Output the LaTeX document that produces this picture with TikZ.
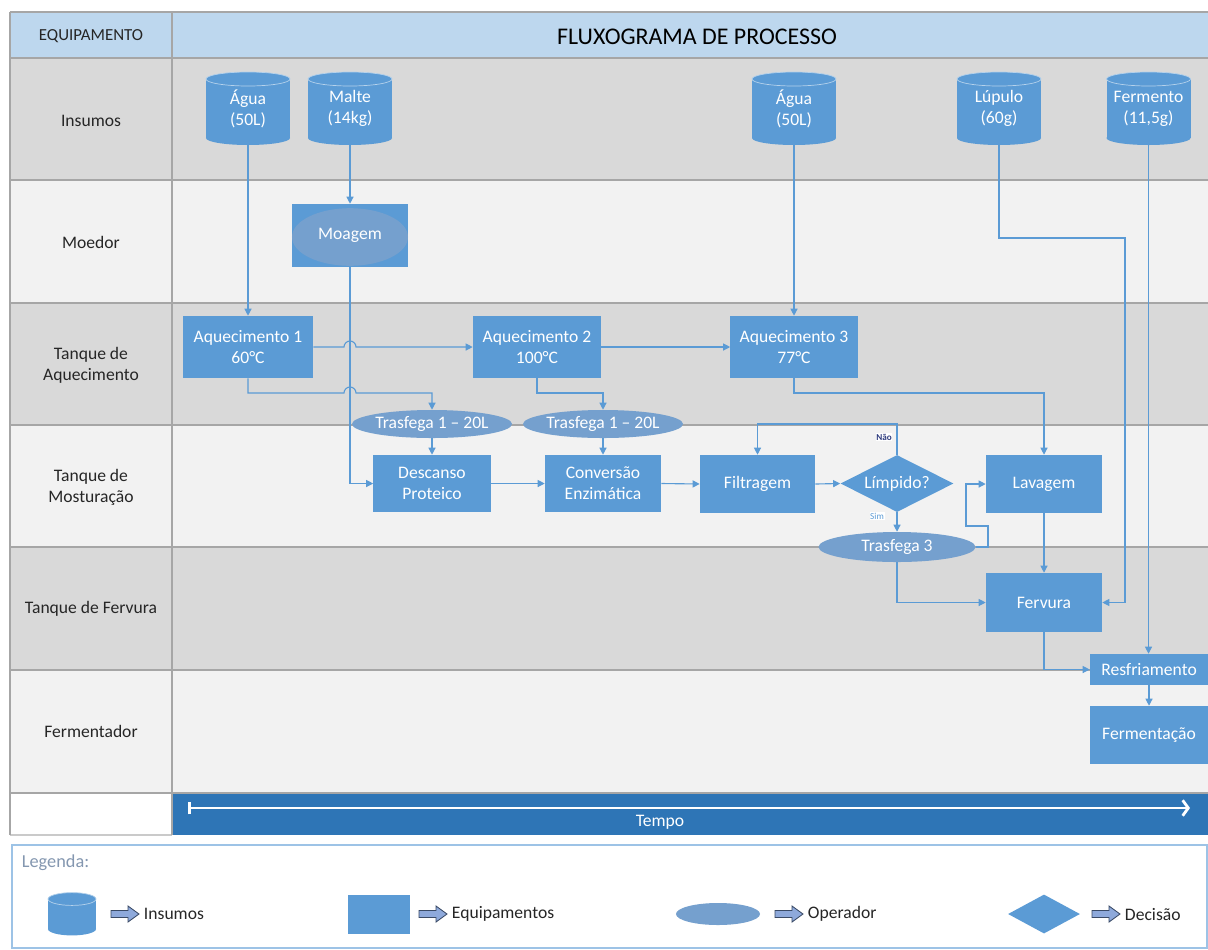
\documentclass[tikz,border=0pt]{standalone}
\usepackage{fontspec}
\setmainfont{Carlito}
\usetikzlibrary{shapes.geometric,arrows.meta}
\definecolor{boxblue}{HTML}{5B9BD5}
\definecolor{opblue}{HTML}{75A0CE}
\definecolor{lineblue}{HTML}{5B9BD5}
\definecolor{headfill}{HTML}{BDD7EE}
\definecolor{rowgray}{HTML}{D9D9D9}
\definecolor{rowlight}{HTML}{F2F2F2}
\definecolor{tempofill}{HTML}{2E75B6}
\definecolor{gridline}{HTML}{A6A6A6}
\definecolor{txtdark}{HTML}{262626}
\definecolor{legborder}{HTML}{9DC3E6}
\definecolor{legtitle}{HTML}{8497B0}
\definecolor{arrfill}{HTML}{8EA9DB}
\definecolor{arrdraw}{HTML}{3A4A66}
\definecolor{naocol}{HTML}{2F3C7E}
\newcommand\cylnd[4]{%
  \fill[boxblue] (#2-42,#3-29.5) rectangle (#2+42,#3+29.5);
  \fill[boxblue] (#2,#3+29.5) ellipse [x radius=1.05cm, y radius=0.175cm];
  \fill[boxblue] (#2,#3-29.5) ellipse [x radius=1.05cm, y radius=0.175cm];
  \draw[white!55!boxblue, line width=0.5pt] (#2,#3-29.5) ellipse [x radius=1.05cm, y radius=0.175cm];
  \node[cyltext, minimum width=2.1cm, minimum height=1.825cm] (#1) at (#2,#3) {#4};
}
\newcommand\legarr[2]{%
  \filldraw[legarrow] (#1-14,#2-3.5) -- (#1+3,#2-3.5) -- (#1+3,#2-8) -- (#1+14,#2) -- (#1+3,#2+8) -- (#1+3,#2+3.5) -- (#1-14,#2+3.5) -- cycle;
}
\begin{document}
\begin{tikzpicture}[x=0.025cm,y=-0.025cm,
  nfont/.style={font=\fontsize{12.5}{15}\selectfont},
  box/.style={rectangle, fill=boxblue, text=white, align=center, inner sep=0pt, nfont},
  oper/.style={ellipse, fill=opblue, text=white, align=center, inner sep=0pt, nfont},
  cyltext/.style={rectangle, text=white, align=center, inner sep=0pt, nfont},
  lanelabel/.style={text=txtdark, align=center, nfont},
  conn/.style={draw=lineblue, line width=0.8pt, -{Triangle[width=5pt,length=5pt]}},
  grid/.style={draw=gridline, line width=1pt},
  legarrow/.style={fill=arrfill, draw=arrdraw, line width=0.6pt, line join=miter},
  legtext/.style={anchor=west, text=txtdark, nfont},
  small/.style={font=\fontsize{6.5}{7}\selectfont, fill=white, inner sep=0.5pt}
]
\useasboundingbox (0,0) rectangle (1208,949);
% lanes
\fill[headfill] (10,12) rectangle (1208,58);
\fill[rowgray] (10,58) rectangle (1208,180);
\fill[rowlight] (10,180) rectangle (1208,303);
\fill[rowgray] (10,303) rectangle (1208,425);
\fill[rowlight] (10,425) rectangle (1208,547);
\fill[rowgray] (10,547) rectangle (1208,670);
\fill[rowlight] (10,670) rectangle (1208,793);
\fill[white] (10,793) rectangle (172,835);
\fill[tempofill] (172,793) rectangle (1208,835);
\foreach \yy in {12,58,180,303,425,547,670,793} \draw[grid] (10,\yy) -- (1208,\yy);
\draw[draw=gridline!60, line width=1pt] (10,835) -- (172,835);
\draw[grid] (10,12) -- (10,835);
\draw[grid] (172,12) -- (172,835);
% headers and lane labels
\node[text=txtdark, font=\fontsize{12}{14}\selectfont] (hEq) at (91,36) {EQUIPAMENTO};
\node[text=black, font=\fontsize{17}{20}\selectfont] (hFl) at (697,37) {FLUXOGRAMA DE PROCESSO};
\node[lanelabel] (lIns) at (91,121) {Insumos};
\node[lanelabel] (lMoe) at (91,242) {Moedor};
\node[lanelabel] (lAq) at (91,365) {Tanque de\\Aquecimento};
\node[lanelabel] (lMo) at (91,487) {Tanque de\\Mosturação};
\node[lanelabel] (lFe) at (91,609) {Tanque de Fervura};
\node[lanelabel] (lFm) at (91,731) {Fermentador};
% insumos
\cylnd{agua1}{248}{108.5}{Água\\(50L)}
\cylnd{malte}{350}{108.5}{Malte\\(14kg)}
\cylnd{agua2}{794}{108.5}{Água\\(50L)}
\cylnd{lupulo}{999}{108.5}{Lúpulo\\(60g)}
\cylnd{fermento}{1148.5}{108.5}{Fermento\\(11,5g)}
% Moagem
\fill[boxblue] (292,204) rectangle (408,267);
\fill[opblue] (350,237) ellipse [x radius=1.45cm, y radius=0.72cm];
\node[cyltext, minimum width=2.9cm, minimum height=1.575cm] (moag) at (350,235.5) {Moagem};
% equipment boxes
\node[box, minimum width=3.25cm, minimum height=1.55cm] (aq1) at (248,347) {Aquecimento 1\\60°C};
\node[box, minimum width=3.2cm, minimum height=1.55cm] (aq2) at (537,347) {Aquecimento 2\\100°C};
\node[box, minimum width=3.175cm, minimum height=1.55cm] (aq3) at (794,347) {Aquecimento 3\\77°C};
\node[oper, minimum width=3.95cm, minimum height=0.7cm] (tr1) at (432,424) {Trasfega 1 – 20L};
\node[oper, minimum width=3.95cm, minimum height=0.7cm] (tr2) at (603,424) {Trasfega 1 – 20L};
\node[box, minimum width=2.925cm, minimum height=1.425cm] (desc) at (432,483.5) {Descanso\\Proteico};
\node[box, minimum width=2.9cm, minimum height=1.425cm] (conv) at (603,483.5) {Conversão\\Enzimática};
\node[box, minimum width=2.875cm, minimum height=1.45cm] (filt) at (757.5,484) {Filtragem};
\node[diamond, fill=boxblue, text=white, inner sep=0pt, aspect=2, nfont, minimum width=2.825cm, minimum height=1.425cm] (limp) at (897,483.5) {Límpido?};
\node[box, minimum width=2.9cm, minimum height=1.45cm] (lav) at (1044,484) {Lavagem};
\node[oper, minimum width=3.925cm, minimum height=0.75cm] (tr3) at (897,547) {Trasfega 3};
\node[box, minimum width=2.9cm, minimum height=1.475cm] (ferv) at (1044,602.5) {Fervura};
\node[box, minimum width=2.95cm, minimum height=0.775cm] (resf) at (1149,669.5) {Resfriamento};
\node[box, minimum width=2.95cm, minimum height=1.45cm] (fermt) at (1149,735) {Fermentação};
% connectors
\draw[conn] (agua1.south) -- (aq1.north);
\draw[conn] (malte.south) -- (moag.north);
\draw[conn] (moag.south) |- (desc.west);
\draw[conn] (aq1.east) -- (344,347) arc[start angle=180, end angle=0, radius=0.15cm] -- (aq2.west);
\draw[conn] (aq1.south) -- (248,393) -- (344,393) arc[start angle=180, end angle=0, radius=0.15cm] -- (432,393) -- (tr1.north);
\draw[conn] (tr1.south) -- (desc.north);
\draw[conn] (desc.east) -- (conv.west);
\draw[conn] (aq2.east) -- (aq3.west);
\draw[conn] (aq2.south) -- (537,393) -| (tr2.north);
\draw[conn] (tr2.south) -- (conv.north);
\draw[conn] (agua2.south) -- (aq3.north);
\draw[conn] (aq3.south) -- (794,393) -| (lav.north);
\draw[conn] (conv.east) -- (filt.west);
\draw[conn] (filt.east) -- (limp.west);
\draw[conn] (limp.north) -- (897,424) -| (filt.north);
\node[small, text=naocol] (nao) at (884,437) {\textbf{Não}};
\draw[conn] (limp.south) -- (tr3.north);
\node[small, text=boxblue] (sim) at (877,516) {Sim};
\draw[conn] (tr3.east) -- (988,547) -- (988,526) -- (966,526) -- (966,484) -- (lav.west);
\draw[conn] (tr3.south) |- (ferv.west);
\draw[conn] (lav.south) -- (ferv.north);
\draw[conn] (lupulo.south) -- (999,238) -- (1125,238) |- (ferv.east);
\draw[conn] (fermento.south) -- (fermento.south |- resf.north);
\draw[conn] (ferv.south) |- (resf.west);
\draw[conn] (resf.south) -- (fermt.north);
% tempo
\coordinate (t0) at (188,808);
\coordinate (t1) at (1190,808);
\draw[white, line width=2pt, {Bar[width=9pt]}-{Straight Barb[length=4pt,width=11pt]}] (t0) -- (t1);
\node[text=white, nfont] (tempo) at (660,822) {Tempo};
% legend
\draw[legborder, line width=0.8pt, fill=white] (12,845) rectangle (1207,948);
\node[anchor=west, text=legtitle, font=\fontsize{13}{15}\selectfont] (legt) at (17,863) {Legenda:};
\fill[boxblue] (48,899) rectangle (96,929);
\fill[boxblue] (72,929) ellipse [x radius=0.6cm, y radius=0.16cm];
\fill[boxblue] (72,899) ellipse [x radius=0.6cm, y radius=0.16cm];
\draw[white!55!boxblue, line width=0.5pt] (72,899) ellipse [x radius=0.6cm, y radius=0.16cm];
\legarr{125}{914}
\node[legtext] (lt1) at (139,914) {Insumos};
\node[rectangle, fill=boxblue, minimum width=1.55cm, minimum height=0.975cm, inner sep=0pt] (lrect) at (379,914.5) {};
\legarr{433}{914}
\node[legtext] (lt2) at (447,914) {Equipamentos};
\node[ellipse, fill=opblue, minimum width=2.1cm, minimum height=0.55cm, inner sep=0pt] (lell) at (718,914) {};
\legarr{789}{914}
\node[legtext] (lt3) at (803,914) {Operador};
\node[diamond, fill=boxblue, aspect=1.85, inner sep=0pt, minimum width=1.8cm, minimum height=0.975cm] (ldia) at (1044,914) {};
\legarr{1106}{914}
\node[legtext] (lt4) at (1120,914) {Decisão};
\end{tikzpicture}
\end{document}
